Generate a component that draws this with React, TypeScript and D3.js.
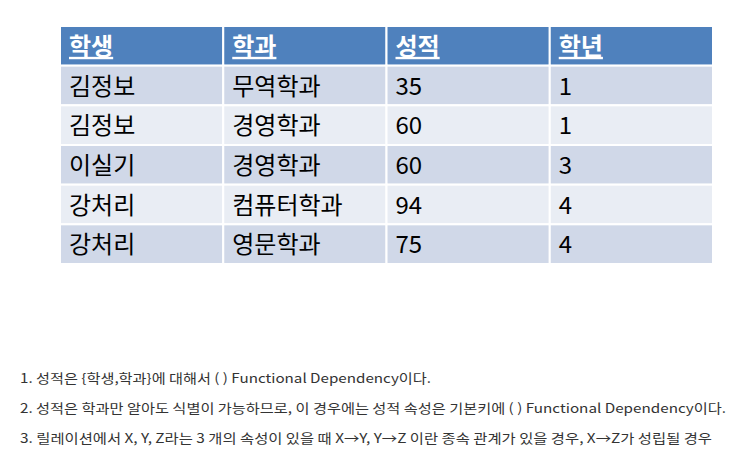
import React from 'react'
import * as d3 from 'd3'

const columns = ['학생', '학과', '성적', '학년']
const students = ['김정보', '김정보', '이실기', '강처리', '강처리']
const departments = ['무역학과', '경영학과', '경영학과', '컴퓨터학과', '영문학과']
const scores = ['35', '60', '60', '94', '75']
const grades = ['1', '1', '3', '4', '4']
const notes = [
  '1. 성적은 {학생,학과}에 대해서 ( ) Functional Dependency이다.',
  '2. 성적은 학과만 알아도 식별이 가능하므로, 이 경우에는 성적 속성은 기본키에 ( ) Functional Dependency이다.',
  '3. 릴레이션에서 X, Y, Z라는 3 개의 속성이 있을 때 X→Y, Y→Z 이란 종속 관계가 있을 경우, X→Z가 성립될 경우',
]

const rows = students.map((s, i) => [s, departments[i], scores[i], grades[i]])

export default function App() {
  const x = d3.scaleBand<number>().domain(d3.range(4)).range([60, 713]).paddingInner(0)
  const y = d3.scaleBand<number>().domain(d3.range(6)).range([26, 264])
  const font = "'Noto Sans CJK KR', sans-serif"
  return (
    <svg width={752} height={461} style={{ position: 'absolute', left: 0, top: 0 }}>
      <rect width={752} height={461} fill="#fff" />
      {d3.range(6).map(r =>
        d3.range(4).map(c => (
          <rect
            key={`${r}-${c}`}
            x={x(c)}
            y={y(r)}
            width={x.bandwidth()}
            height={y.bandwidth()}
            fill={r === 0 ? '#4F81BD' : r % 2 ? '#D0D8E8' : '#E9EDF4'}
            stroke="#fff"
            strokeWidth={2}
          />
        ))
      )}
      {columns.map((t, c) => (
        <text key={t} x={x(c)! + 9} y={y(0)! + y.bandwidth() / 2 + 9} fill="#fff" fontSize={24}
          fontWeight="bold" textDecoration="underline" fontFamily={font}>{t}</text>
      ))}
      {rows.map((row, r) =>
        row.map((t, c) => (
          <text key={`${r}-${c}`} x={x(c)! + 9} y={y(r + 1)! + y.bandwidth() / 2 + 9} fill="#000"
            fontSize={24} fontFamily={font}>{t}</text>
        ))
      )}
      {notes.map((t, i) => (
        <text key={i} x={20} y={383 + i * 30} fontSize={13} fill="#333" fontFamily={font}
          textLength={i === 1 ? 706 : i === 2 ? 692 : 411} lengthAdjust="spacingAndGlyphs">{t}</text>
      ))}
    </svg>
  )
}
